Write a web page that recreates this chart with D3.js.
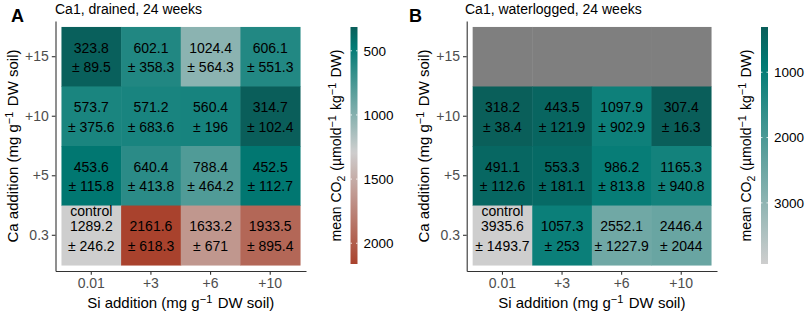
<!DOCTYPE html>
<html><head><meta charset="utf-8">
<script src="https://cdn.jsdelivr.net/npm/d3@7"></script>
<style>
body{margin:0;background:#fff}
text{font-family:"Liberation Sans",Arial,sans-serif}
</style>
</head><body>
<svg id="c" width="809" height="313"></svg>
<script>
// ---- data ----
const siLevels = ["0.01", "+3", "+6", "+10"];
const caLevels = ["+15", "+10", "+5", "0.3"]; // top to bottom
const drainedMean = [
  [323.8, 602.1, 1024.4, 606.1],
  [573.7, 571.2, 560.4, 314.7],
  [453.6, 640.4, 788.4, 452.5],
  [1289.2, 2161.6, 1633.2, 1933.5]
];
const drainedSd = [
  [89.5, 358.3, 564.3, 551.3],
  [375.6, 683.6, 196, 102.4],
  [115.8, 413.8, 464.2, 112.7],
  [246.2, 618.3, 671, 895.4]
];
const waterMean = [
  [null, null, null, null],
  [318.2, 443.5, 1097.9, 307.4],
  [491.1, 553.3, 986.2, 1165.3],
  [3935.6, 1057.3, 2552.1, 2446.4]
];
const waterSd = [
  [null, null, null, null],
  [38.4, 121.9, 902.9, 16.3],
  [112.6, 181.1, 813.8, 940.8],
  [1493.7, 253, 1227.9, 2044]
];
const drainedBreaks = [500, 1000, 1500, 2000];
const waterBreaks = [1000, 2000, 3000];
const panelLabels = ["A", "B"];
const panelTitles = ["Ca1, drained, 24 weeks", "Ca1, waterlogged, 24 weeks"];

const svg = d3.select("#c");
const FONT = '"Liberation Sans",Arial,sans-serif';
const lowC = "#0a5e5a", tealC = "#007a74", midC = "#cecece", highC = "#a5321a", naC = "#7f7f7f";

const panels = [
  {label: panelLabels[0], title: panelTitles[0], mean: drainedMean, sd: drainedSd, breaks: drainedBreaks,
   x0: 55.5, x1: 306, labelX: 11, titleX: 55, yTitleX: 18, barX: 350.5, legTitleX: 341},
  {label: panelLabels[1], title: panelTitles[1], mean: waterMean, sd: waterSd, breaks: waterBreaks,
   x0: 466.7, x1: 717, labelX: 409, titleX: 465, yTitleX: 429, barX: 761, legTitleX: 751}
];
const y0 = 21, y1 = 271, barY0 = 27, barY1 = 264, barW = 7;

function addSup(sel, parts) {
  parts.forEach(p => {
    if (p.t === "n") sel.append("tspan").text(p.s);
    else if (p.t === "sup") { sel.append("tspan").attr("dy", -5).attr("font-size", "11px").text(p.s); sel.append("tspan").attr("dy", 5).text("\u200A"); }
    else if (p.t === "sub") { sel.append("tspan").attr("dy", 4).attr("font-size", "10.5px").text(p.s); sel.append("tspan").attr("dy", -4).text("\u200A"); }
  });
}

panels.forEach((P, pi) => {
  const g = svg.append("g");
  const x = d3.scaleBand().domain(siLevels).range([P.x0, P.x1]).paddingInner(0).paddingOuter(0.1);
  const y = d3.scaleBand().domain(caLevels).range([y0, y1]).paddingInner(0).paddingOuter(0.1);
  const vals = P.mean.flat().filter(v => v != null);
  const vmin = d3.min(vals), vmax = d3.max(vals);
  const ctrl = P.mean[3][0];
  const r = Math.max(ctrl - vmin, vmax - ctrl);
  const color = d3.scaleLinear()
    .domain([ctrl - r, ctrl - 0.84 * r, ctrl, ctrl + r])
    .range([lowC, tealC, midC, highC])
    .interpolate(d3.interpolateRgb);

  const cells = [];
  caLevels.forEach((ca, i) => siLevels.forEach((si, j) => cells.push({ca, si, m: P.mean[i][j], s: P.sd[i][j], ctrl: i === 3 && j === 0})));

  g.selectAll("rect.cell").data(cells).join("rect")
    .attr("x", d => x(d.si)).attr("y", d => y(d.ca))
    .attr("width", x.bandwidth() + 0.5).attr("height", y.bandwidth() + 0.5)
    .attr("fill", d => d.m == null ? naC : color(d.m));

  const tg = g.selectAll("g.lab").data(cells.filter(d => d.m != null)).join("g")
    .attr("transform", d => `translate(${x(d.si) + x.bandwidth() / 2},${y(d.ca) + y.bandwidth() / 2})`)
    .attr("font-size", "14px").attr("text-anchor", "middle").attr("fill", "#000");
  tg.append("text").attr("y", -9).attr("dy", "0.35em").text(d => String(d.m));
  tg.append("text").attr("y", 10.5).attr("dy", "0.35em").text(d => "\u00B1 " + String(d.s));
  tg.filter(d => d.ctrl).append("text").attr("y", -24.5).attr("dy", "0.35em").text("control");

  // axes
  const ax = g.append("g").attr("transform", `translate(0,${y1})`)
    .call(d3.axisBottom(x).tickSize(3.7).tickSizeOuter(0).tickPadding(3));
  const ay = g.append("g").attr("transform", `translate(${P.x0},0)`)
    .call(d3.axisLeft(y).tickSize(3.7).tickSizeOuter(0).tickPadding(3));
  [ax, ay].forEach(a => {
    a.select(".domain").attr("stroke", "#333").attr("stroke-width", 1.1);
    a.selectAll(".tick line").attr("stroke", "#333").attr("stroke-width", 1.1);
    a.selectAll(".tick text").attr("fill", "#4d4d4d").attr("font-size", "14px").attr("font-family", FONT);
  });

  // axis titles
  const xt = g.append("text").attr("x", (P.x0 + P.x1) / 2).attr("y", 308).attr("text-anchor", "middle").attr("font-size", "15px").attr("fill", "#000");
  addSup(xt, [{t: "n", s: "Si addition (mg g"}, {t: "sup", s: "\u22121"}, {t: "n", s: " DW soil)"}]);
  const yt = g.append("text").attr("transform", `translate(${P.yTitleX},${(y0 + y1) / 2}) rotate(-90)`).attr("text-anchor", "middle").attr("font-size", "15px").attr("fill", "#000");
  addSup(yt, [{t: "n", s: "Ca addition (mg g"}, {t: "sup", s: "\u22121"}, {t: "n", s: " DW soil)"}]);

  // title & panel label
  g.append("text").attr("x", P.titleX).attr("y", 14).attr("font-size", "14px").attr("fill", "#000").text(P.title);
  g.append("text").attr("x", P.labelX).attr("y", 21.5).attr("font-size", "18px").attr("font-weight", "bold").attr("fill", "#000").text(P.label);

  // colorbar
  const gid = "grad" + pi;
  const grad = svg.append("defs").append("linearGradient").attr("id", gid).attr("x1", 0).attr("y1", 0).attr("x2", 0).attr("y2", 1);
  d3.range(0, 61).forEach(k => {
    const v = vmin + (vmax - vmin) * k / 60;
    grad.append("stop").attr("offset", (k / 60 * 100) + "%").attr("stop-color", color(v));
  });
  const by = d3.scaleLinear().domain([vmin, vmax]).range([barY0, barY1]);
  g.append("rect").attr("x", P.barX).attr("y", barY0).attr("width", barW).attr("height", barY1 - barY0).attr("fill", `url(#${gid})`);
  const bt = g.selectAll("g.bt").data(P.breaks).join("g").attr("transform", d => `translate(0,${by(d)})`);
  bt.append("line").attr("x1", P.barX).attr("x2", P.barX + 1.5).attr("stroke", "#fff").attr("stroke-width", 0.8);
  bt.append("line").attr("x1", P.barX + barW - 1.5).attr("x2", P.barX + barW).attr("stroke", "#fff").attr("stroke-width", 0.8);
  bt.append("text").attr("x", P.barX + barW + 6).attr("dy", "0.35em").attr("font-size", "13.5px").attr("fill", "#000").text(d => d);
  const lt = g.append("text").attr("transform", `translate(${P.legTitleX},${(barY0 + barY1) / 2}) rotate(-90)`).attr("text-anchor", "middle").attr("font-size", "14px").attr("fill", "#000");
  addSup(lt, [{t: "n", s: "mean CO"}, {t: "sub", s: "2"}, {t: "n", s: " (\u00B5mold"}, {t: "sup", s: "\u22121"}, {t: "n", s: " kg"}, {t: "sup", s: "\u22121"}, {t: "n", s: " DW)"}]);
});
</script>
</body></html>
